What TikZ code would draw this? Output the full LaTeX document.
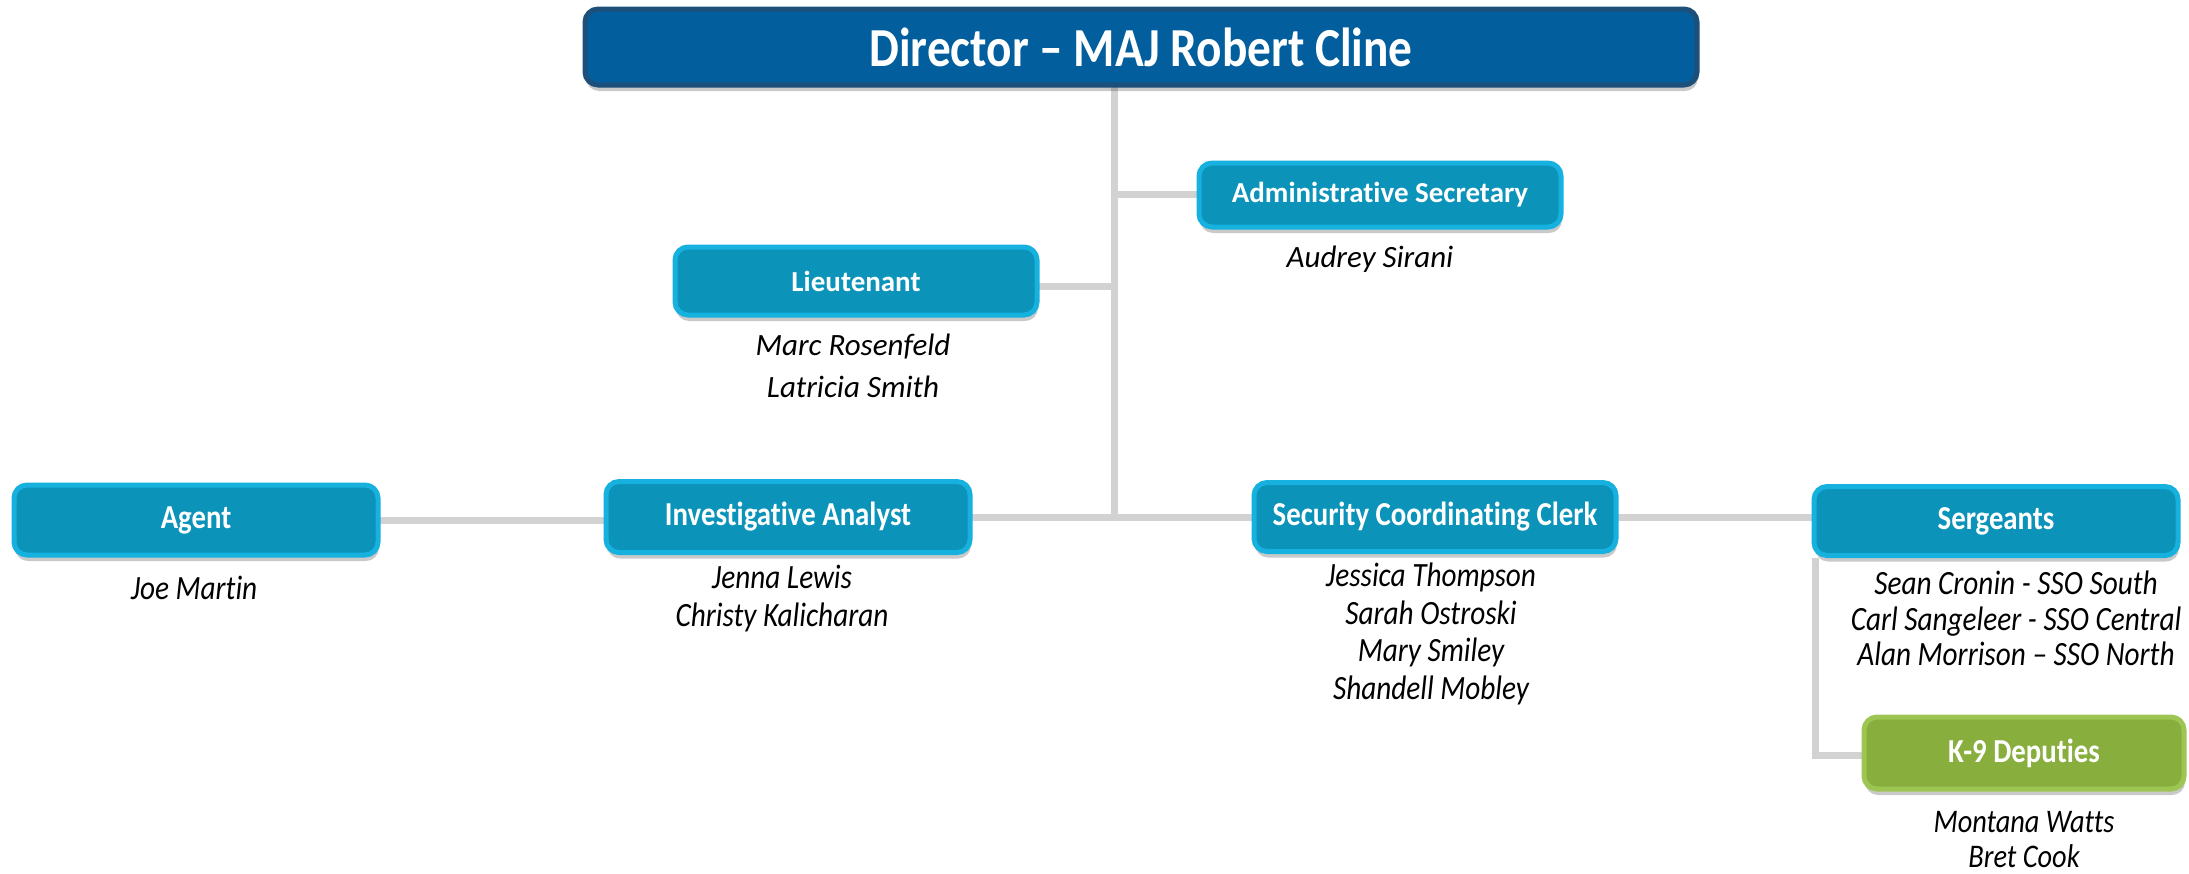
\documentclass[tikz,border=0pt]{standalone}
\usepackage{fontspec}
\setmainfont[Ligatures={NoCommon}]{Carlito}
\newfontfamily\condfont[FakeStretch=0.86,Ligatures={NoCommon}]{Carlito}
\usetikzlibrary{shadows}
\definecolor{tealfill}{HTML}{0B93B9}
\definecolor{tealedge}{HTML}{16B1DE}
\definecolor{dirfill}{HTML}{035E9D}
\definecolor{diredge}{HTML}{1D4F7B}
\definecolor{kfill}{HTML}{88AE3D}
\definecolor{kedge}{HTML}{9DC552}
\definecolor{linegray}{HTML}{D2D2D2}
\tikzset{
  box/.style={draw=tealedge, fill=tealfill, line width=5pt, rounded corners=13pt,
    text=white, font=\fontsize{29}{32}\selectfont\bfseries, inner sep=0pt,
    drop shadow={shadow xshift=1pt, shadow yshift=-6pt, opacity=0.3, fill=black!70}},
  condbox/.style={box, font=\condfont\fontsize{33.5}{36}\selectfont\bfseries},
  dirbox/.style={box, draw=diredge, fill=dirfill, font=\condfont\fontsize{55}{60}\selectfont\bfseries},
  kbox/.style={condbox, draw=kedge, fill=kfill},
  names/.style={align=center, inner sep=0pt, font=\fontsize{31}{42}\selectfont\itshape},
  condnames/.style={names, font=\condfont\fontsize{34}{37.5}\selectfont\itshape},
  conn/.style={draw=linegray, line width=7pt}
}
\begin{document}
\begin{tikzpicture}[x=1pt,y=-1pt]
\useasboundingbox (0,0) rectangle (2189,873);
% connector junctions
\coordinate (top) at (1114,87);
\coordinate (jadm) at (1114,194);
\coordinate (jlt) at (1114,286);
\coordinate (bot) at (1114,517);
\coordinate (sgtcorner) at (1815,558);
\coordinate (kcorner) at (1815,755);
% box positions
\coordinate (pdir) at (1141,47);
\coordinate (padm) at (1380,195);
\coordinate (plt) at (856,281);
\coordinate (pia) at (788,517);
\coordinate (pagent) at (196,520);
\coordinate (pscc) at (1435,517);
\coordinate (psgt) at (1996,521);
\coordinate (pk9) at (2024,753);
% invisible placeholders for anchors
\begin{scope}[every node/.style={inner sep=0pt}]
\node[minimum width=1112pt, minimum height=76pt] (dir) at (pdir) {};
\node[minimum width=362pt, minimum height=64pt] (adm) at (padm) {};
\node[minimum width=362pt, minimum height=68pt] (lt) at (plt) {};
\node[minimum width=364pt, minimum height=71pt] (ia) at (pia) {};
\node[minimum width=364pt, minimum height=70pt] (agent) at (pagent) {};
\node[minimum width=362pt, minimum height=69pt] (scc) at (pscc) {};
\node[minimum width=364pt, minimum height=69pt] (sgt) at (psgt) {};
\node[minimum width=320pt, minimum height=72pt] (k9) at (pk9) {};
\end{scope}
% connectors
\draw[conn] (top) -- (bot);
\draw[conn] (jadm) -- (adm.west |- jadm);
\draw[conn] (lt.east |- jlt) -- (jlt);
\draw[conn] (ia.east) -- (scc.west);
\draw[conn] (agent.east) -- (ia.west |- agent.east);
\draw[conn] (scc.east) -- (sgt.west |- scc.east);
\draw[conn] (sgtcorner) -- (kcorner) -- (k9.west |- kcorner);
% boxes drawn over connectors
\node[dirbox, minimum width=1112pt, minimum height=76pt] (dirbox) at (dir) {Director – MAJ Robert Cline};
\node[box, minimum width=362pt, minimum height=64pt] (admbox) at (adm) {Administrative Secretary};
\node[box, minimum width=362pt, minimum height=68pt] (ltbox) at (lt) {Lieutenant};
\node[condbox, minimum width=364pt, minimum height=71pt] (iabox) at (ia) {Investigative Analyst};
\node[condbox, minimum width=364pt, minimum height=70pt] (agentbox) at (agent) {Agent};
\node[condbox, minimum width=362pt, minimum height=69pt] (sccbox) at (scc) {Security Coordinating Clerk};
\node[condbox, minimum width=364pt, minimum height=69pt] (sgtbox) at (sgt) {Sergeants};
\node[kbox, minimum width=320pt, minimum height=72pt] (k9box) at (k9) {K-9 Deputies};
% names
\node[names, anchor=north] (nadm) at (1370,246) {Audrey Sirani};
\node[names, anchor=north] (nlt) at (853,334) {Marc Rosenfeld\\Latricia Smith};
\node[condnames, anchor=north] (nagent) at (194,576) {Joe Martin};
\node[condnames, anchor=north] (nia) at (782,565) {Jenna Lewis\\Christy Kalicharan};
\node[condnames, anchor=north] (nscc) at (1431,563) {Jessica Thompson\\Sarah Ostroski\\Mary Smiley\\Shandell Mobley};
\node[condnames, anchor=north, font=\condfont\fontsize{34}{35.5}\selectfont\itshape] (nsgt) at (2016,571) {Sean Cronin - SSO South\\Carl Sangeleer - SSO Central\\Alan Morrison – SSO North};
\node[condnames, anchor=north, font=\condfont\fontsize{33}{35}\selectfont\itshape] (nk9) at (2024,811) {Montana Watts\\Bret Cook};
\end{tikzpicture}
\end{document}
